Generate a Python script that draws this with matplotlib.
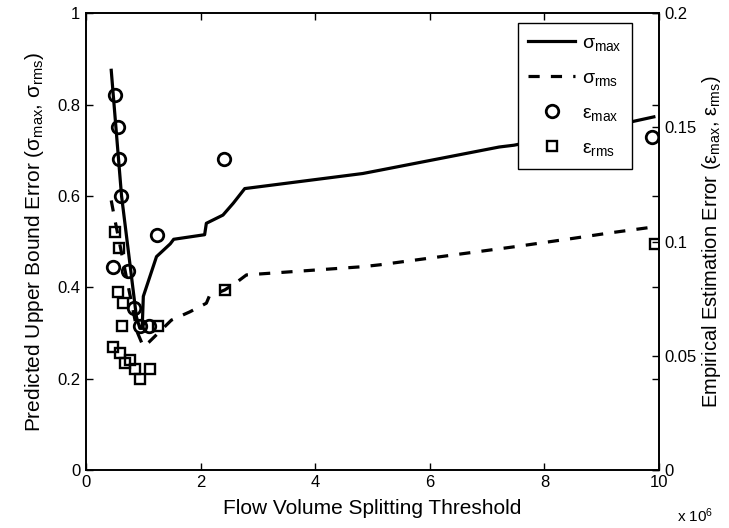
import matplotlib
matplotlib.use("Agg")
import matplotlib.pyplot as plt
import numpy as np

plt.rcParams["font.family"] = ["Liberation Sans", "DejaVu Sans"]
plt.rcParams["mathtext.fontset"] = "custom"
plt.rcParams["mathtext.rm"] = "Liberation Sans"
plt.rcParams["mathtext.it"] = "Liberation Sans"

# predicted upper bound (left axis), x in units of 1e6
sigma_max_x = [0.44, 0.62, 0.88, 0.94, 0.98, 1.00, 1.23, 1.47, 1.53, 2.07, 2.10,
               2.39, 2.57, 2.77, 4.83, 5.12, 7.21, 7.47, 9.51, 9.91]
sigma_max_y = [0.875, 0.60, 0.335, 0.31, 0.31, 0.38, 0.467, 0.495, 0.505, 0.515, 0.54,
               0.558, 0.584, 0.616, 0.649, 0.656, 0.707, 0.711, 0.762, 0.773]

sigma_rms_x = [0.44, 0.50, 0.90, 1.00, 1.10, 1.49, 1.81, 2.10, 2.15, 2.42, 2.62,
               2.80, 4.83, 5.12, 7.50, 8.50, 9.20, 9.91]
sigma_rms_y = [0.59, 0.55, 0.30, 0.27, 0.28, 0.328, 0.346, 0.365, 0.38, 0.394, 0.41,
               0.427, 0.445, 0.449, 0.489, 0.507, 0.52, 0.532]

# empirical estimation error (right axis)
eps_max_x = [0.476, 0.505, 0.552, 0.575, 0.615, 0.738, 0.843, 0.942, 1.105, 1.23, 2.40, 9.88]
eps_max_y = [0.089, 0.164, 0.150, 0.136, 0.120, 0.087, 0.071, 0.063, 0.063, 0.103, 0.136, 0.146]

eps_rms_x = [0.506, 0.581, 0.564, 0.651, 0.623, 0.476, 0.593, 0.681, 0.768, 0.855,
             0.942, 1.117, 1.26, 2.43, 9.93]
eps_rms_y = [0.104, 0.097, 0.078, 0.073, 0.063, 0.054, 0.051, 0.047, 0.048, 0.044,
             0.040, 0.044, 0.063, 0.079, 0.099]

scale = 1e6
x_ticks = [0, 2, 4, 6, 8, 10]
left_ticks = [0, 0.2, 0.4, 0.6, 0.8, 1]
right_ticks = [0, 0.05, 0.1, 0.15, 0.2]

fig = plt.figure(figsize=(7.29, 5.28), dpi=100)
ax = fig.add_axes([0.118, 0.110, 0.786, 0.865])
ax2 = ax.twinx()

lw = 2.3
l1, = ax.plot(np.array(sigma_max_x) * scale, sigma_max_y, "-", color="black", lw=lw,
              label=r"$\sigma_{\rm max}$")
l2, = ax.plot(np.array(sigma_rms_x) * scale, sigma_rms_y, "--", color="black", lw=lw,
              dashes=(3.5, 3.5), label=r"$\sigma_{\rm rms}$")
m1, = ax2.plot(np.array(eps_max_x) * scale, eps_max_y, "o", mfc="none", mec="black",
               ms=9, mew=2.0, label=r"$\varepsilon_{\rm max}$")
m2, = ax2.plot(np.array(eps_rms_x) * scale, eps_rms_y, "s", mfc="none", mec="black",
               ms=7, mew=1.7, label=r"$\varepsilon_{\rm rms}$")

ax.set_xlim(0, 10 * scale)
ax.set_ylim(0, 1)
ax2.set_ylim(0, 0.2)
ax.set_xticks([t * scale for t in x_ticks])
ax.set_xticklabels([str(t) for t in x_ticks])
ax.set_yticks(left_ticks)
ax.set_yticklabels(["0", "0.2", "0.4", "0.6", "0.8", "1"])
ax2.set_yticks(right_ticks)
ax2.set_yticklabels(["0", "0.05", "0.1", "0.15", "0.2"])

ax.tick_params(direction="in", length=5, width=1, top=True, right=True, labelsize=12, pad=4)
ax2.tick_params(direction="in", length=5, width=1, labelsize=12, pad=4)
for a in (ax, ax2):
    for s in a.spines.values():
        s.set_linewidth(1.2)

ax.set_xlabel("Flow Volume Splitting Threshold", fontsize=15, labelpad=6)
ax.set_ylabel(r"Predicted Upper Bound Error ($\sigma_{\rm max}$, $\sigma_{\rm rms}$)",
              fontsize=15, labelpad=8)
ax2.set_ylabel(r"Empirical Estimation Error ($\varepsilon_{\rm max}$, $\varepsilon_{\rm rms}$)",
               fontsize=14.5, labelpad=2)
fig.text(0.953, 0.006, r"x 10$^{6}$", fontsize=11, ha="center", va="bottom")

leg = ax2.legend(handles=[l1, l2, m1, m2], loc="upper right", bbox_to_anchor=(0.953, 0.978),
                 borderaxespad=0, fontsize=14, handlelength=2.4, handletextpad=0.35,
                 labelspacing=0.85, borderpad=0.55, fancybox=False, edgecolor="black",
                 framealpha=1)
leg.get_frame().set_linewidth(1.0)

fig.savefig("out.png", dpi=100)
